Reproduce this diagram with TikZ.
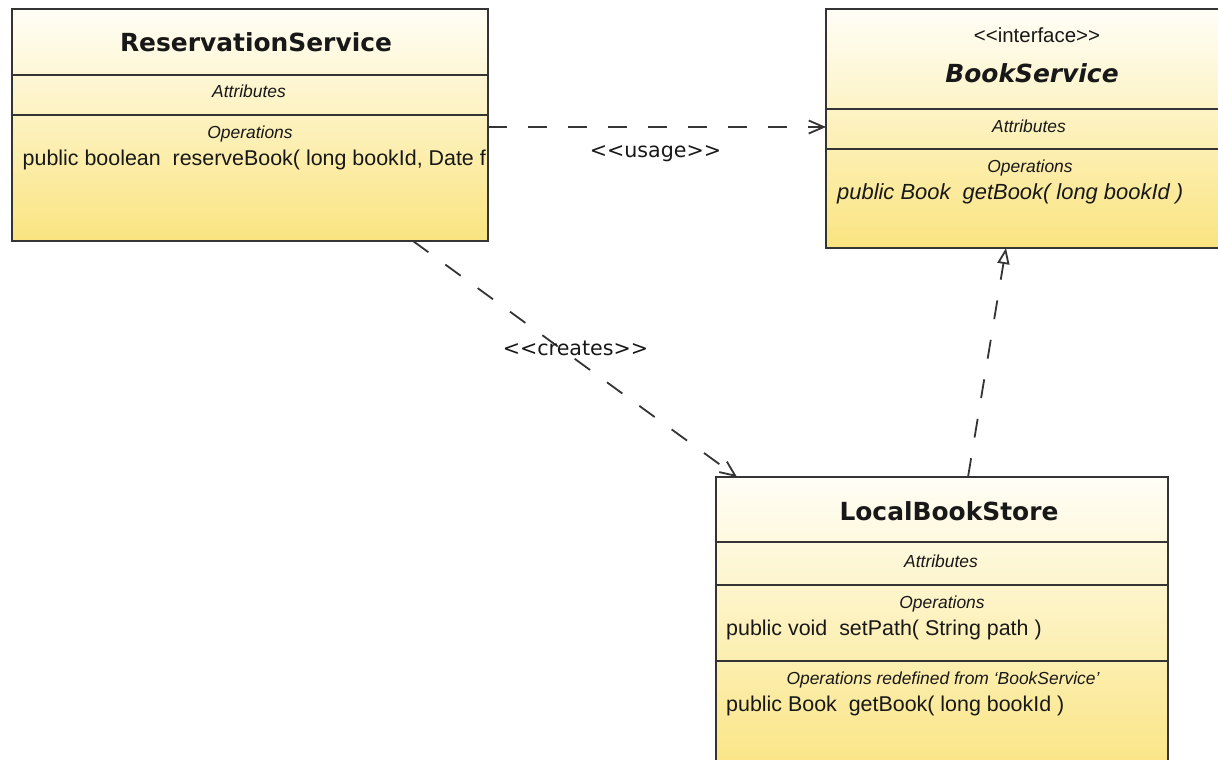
\documentclass[tikz,border=0pt]{standalone}
\usepackage{fontspec}
\setmainfont{Liberation Sans}
\newfontfamily\headfont{DejaVu Sans}
\usetikzlibrary{arrows.meta}

\definecolor{umltop}{RGB}{255,254,247}
\definecolor{umlbot}{RGB}{250,228,128}
\definecolor{umlline}{RGB}{52,52,52}
\definecolor{umltext}{RGB}{24,24,24}

\tikzset{
  classbox/.style={rectangle, draw=umlline, line width=2bp, top color=umltop,
    bottom color=umlbot, inner sep=0pt, outer sep=0pt, anchor=north west},
  divider/.style={draw=umlline, line width=2bp},
  classtitle/.style={font=\headfont\bfseries\fontsize{25}{30}\selectfont,
    text=umltext, anchor=base, inner sep=0pt},
  compart/.style={font=\itshape\fontsize{17.5}{21}\selectfont, text=umltext,
    anchor=base, inner sep=0pt},
  member/.style={font=\fontsize{21.5}{26}\selectfont, text=umltext,
    anchor=base west, inner sep=0pt},
  stereo/.style={font=\fontsize{20.5}{25}\selectfont, text=umltext,
    anchor=base, inner sep=0pt},
  deplabel/.style={font=\headfont\fontsize{20.7}{25}\selectfont, text=umltext,
    anchor=base, inner sep=0pt},
  dep/.style={draw=umlline, line width=1.8bp, dash pattern=on 19bp off 21bp,
    -{Straight Barb[length=15bp,width=13bp]}},
  realize/.style={draw=umlline, line width=1.8bp, dash pattern=on 19bp off 21bp,
    -{Triangle[open,length=16bp,width=12bp]}},
}

\begin{document}
\begin{tikzpicture}[x=1bp, y=-1bp]
\useasboundingbox (0,0) rectangle (1218,760);
\clip (0,0) rectangle (1218,760);

% ReservationService
\node[classbox, minimum width=476bp, minimum height=232bp] (rs) at (12,9) {};
\draw[divider] ([yshift=-66bp]rs.north west) -- ([yshift=-66bp]rs.north east);
\draw[divider] ([yshift=-106bp]rs.north west) -- ([yshift=-106bp]rs.north east);
\node[classtitle] (rsTitle) at (256,52) {ReservationService};
\node[compart] (rsAttr) at (249,98) {Attributes};
\node[compart] (rsOps) at (250,138) {Operations};
\begin{scope}
  \clip ([xshift=1bp]rs.south west) rectangle ([xshift=-1bp]rs.north east);
  \node[member] (rsOp1) at (22.5,165) {public boolean\ \ reserveBook( long bookId, Date f};
\end{scope}

% BookService (interface)
\node[classbox, minimum width=408bp, minimum height=239bp] (bs) at (826,9) {};
\draw[divider] ([yshift=-100bp]bs.north west) -- ([yshift=-100bp]bs.north east);
\draw[divider] ([yshift=-140bp]bs.north west) -- ([yshift=-140bp]bs.north east);
\node[stereo] (bsStereo) at (1037,43) {<{}<interface>{}>};
\node[classtitle, font=\headfont\bfseries\itshape\fontsize{25}{30}\selectfont] (bsTitle) at (1032,83) {BookService};
\node[compart] (bsAttr) at (1029,132) {Attributes};
\node[compart] (bsOps) at (1030,172) {Operations};
\node[member, font=\itshape\fontsize{22}{26}\selectfont] (bsOp1) at (837,199) {public Book\ \ getBook( long bookId )};

% LocalBookStore
\node[classbox, minimum width=452bp, minimum height=303bp] (lbs) at (716,477) {};
\draw[divider] ([yshift=-65bp]lbs.north west) -- ([yshift=-65bp]lbs.north east);
\draw[divider] ([yshift=-108bp]lbs.north west) -- ([yshift=-108bp]lbs.north east);
\draw[divider] ([yshift=-184bp]lbs.north west) -- ([yshift=-184bp]lbs.north east);
\node[classtitle] (lbsTitle) at (949,520) {LocalBookStore};
\node[compart] (lbsAttr) at (941,567) {Attributes};
\node[compart] (lbsOps) at (942,608) {Operations};
\node[member] (lbsOp1) at (726,635) {public void\ \ setPath( String path )};
\node[compart] (lbsRedef) at (943,684) {Operations redefined from ‘BookService’};
\node[member] (lbsOp2) at (726,711) {public Book\ \ getBook( long bookId )};

% Relationships
\draw[dep] ([yshift=-2bp]rs.east) -- ([yshift=-2bp]rs.east -| bs.west);
\node[deplabel] (usageLbl) at (655.5,157) {<{}<usage>{}>};

\draw[dep] ([xshift=163bp]rs.south) -- ([xshift=-205bp]lbs.north);
\node[deplabel] (createsLbl) at (575.5,355) {<{}<creates>{}>};

\draw[realize] ([xshift=26bp]lbs.north) -- ([xshift=-24bp]bs.south);
\end{tikzpicture}
\end{document}
